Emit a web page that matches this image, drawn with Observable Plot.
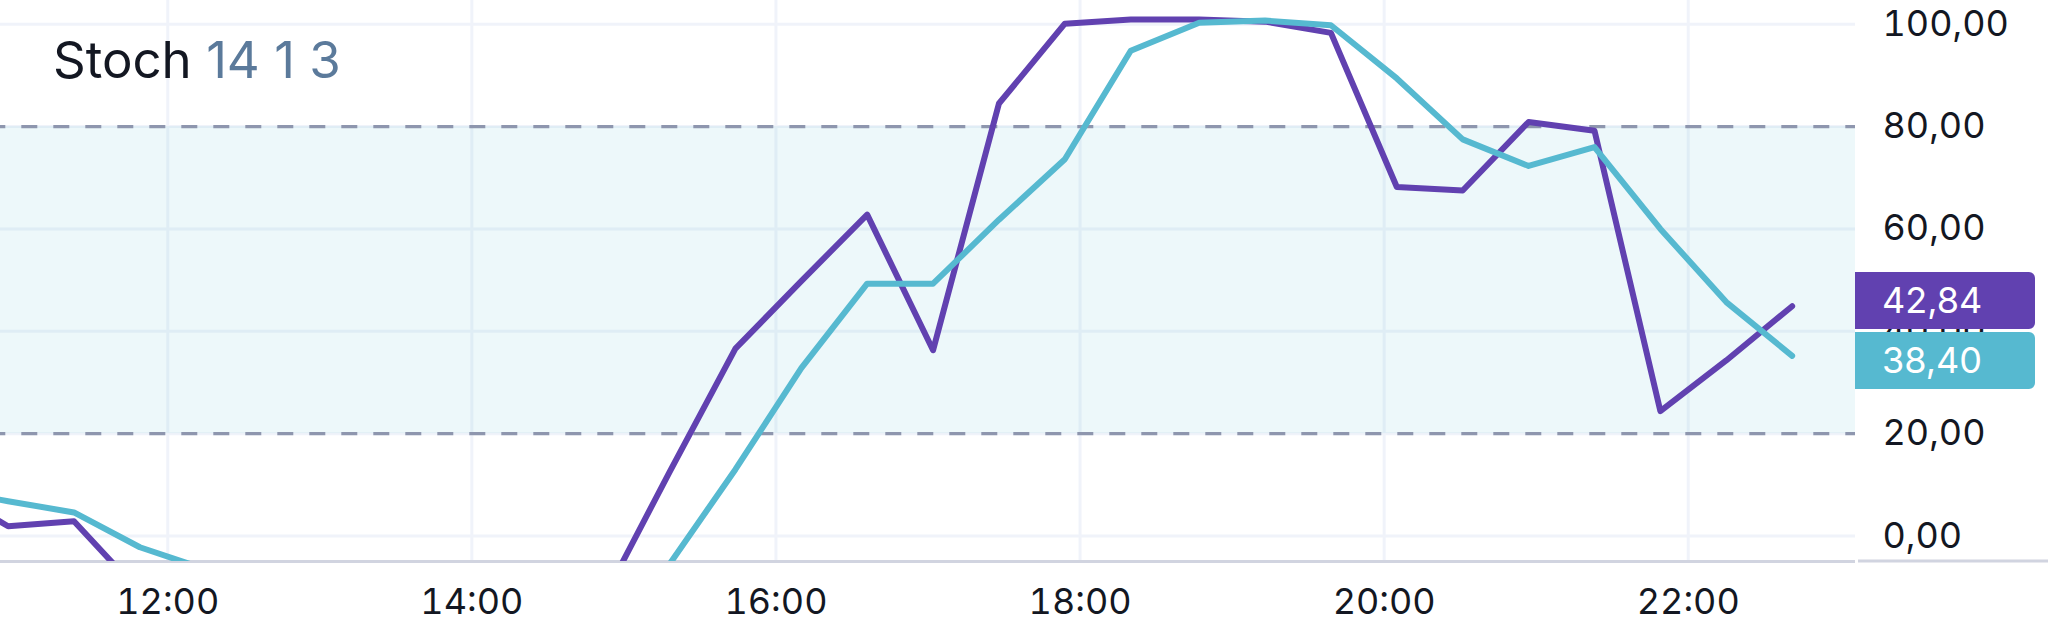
<!DOCTYPE html>
<html>
<head>
<meta charset="utf-8">
<script src="https://cdn.jsdelivr.net/npm/d3@7"></script>
<script src="https://cdn.jsdelivr.net/npm/@observablehq/plot@0.6"></script>
<style>
  html, body { margin: 0; padding: 0; background: #ffffff; }
  #chart { width: 2048px; height: 640px; }
</style>
</head>
<body>
<div id="chart"></div>
<script>
// ---- data ----
const times = ["10:31","10:57","11:23","11:49","12:15","12:41","13:07","13:33","13:59","14:26",
               "14:52","15:18","15:44","16:10","16:36","17:02","17:28","17:54","18:20","18:47",
               "19:13","19:39","20:05","20:31","20:57","21:23","21:49","22:15","22:41"];
const kValues = [9.5, 1.9, 2.9, -11.0, -11.0, -15.0, -15.0, -15.0, -15.0, -19.0,
                 -12.2, 12.5, 36.6, 49.8, 62.8, 36.3, 84.5, 100.1, 100.9, 100.9,
                 100.5, 98.3, 68.2, 67.5, 80.9, 79.2, 24.4, 34.3, 44.9];
const dValues = [9.1, 6.8, 4.6, -2.2, -6.5, -12.4, -13.7, -15.0, -15.0, -16.3,
                 -15.2, -5.5, 13.0, 32.8, 49.3, 49.3, 61.8, 73.6, 94.8, 100.3,
                 100.7, 99.8, 89.4, 77.5, 72.3, 76.0, 60.0, 45.7, 35.2];
const yTicks = [0, 20, 40, 60, 80, 100];
const xTickLabels = ["12:00", "14:00", "16:00", "18:00", "20:00", "22:00"];
const bandLevels = [20, 80];
const titleName = "Stoch";
const titleParams = "14 1 3";
const badgeLabels = ["42,84", "38,40"];

// ---- build ----
const parse = d3.timeParse("%H:%M");
const rows = times.map((t, i) => ({t: parse(t), k: kValues[i], d: dValues[i]}));
const xDomain = [parse("10:54"), parse("23:06")];
const yDomain = [-4.98, 104.63];
const fmt = v => d3.format(".2f")(v).replace(".", ",");
const font = "Inter, 'Noto Sans', sans-serif";

const purple = "#6141B0";
const cyan = "#56B9D0";

const plot = Plot.plot({
  width: 2048,
  height: 640,
  marginLeft: 0,
  marginRight: 193,
  marginTop: 0,
  marginBottom: 79,
  style: {fontFamily: font, fontSize: "36px", color: "#131722", background: "#ffffff", overflow: "visible"},
  x: {type: "time", domain: xDomain, label: null},
  y: {domain: yDomain, label: null},
  marks: [
    Plot.gridY(yTicks, {stroke: "#F0F3FA", strokeOpacity: 1, strokeWidth: 3}),
    Plot.gridX(xTickLabels.map(parse), {stroke: "#F0F3FA", strokeOpacity: 1, strokeWidth: 3}),
    Plot.rect([{y1: bandLevels[0], y2: bandLevels[1]}], {
      x1: () => xDomain[0], x2: () => xDomain[1], y1: "y1", y2: "y2",
      fill: cyan, fillOpacity: 0.107
    }),
    Plot.ruleY(bandLevels, {stroke: "#8E96AE", strokeWidth: 3.2, strokeDasharray: "16,16", strokeDashoffset: 10.7}),
    Plot.ruleY([yDomain[0]], {stroke: "#D1D4E0", strokeWidth: 3}),
    Plot.line(rows, {x: "t", y: "k", stroke: purple, strokeWidth: 6, clip: true}),
    Plot.line(rows, {x: "t", y: "d", stroke: cyan, strokeWidth: 6, clip: true}),
    Plot.axisY(yTicks, {anchor: "right", tickSize: 0, tickPadding: 27, tickFormat: fmt, textAnchor: "start", fill: "#131722", label: null}),
    Plot.axisX(xTickLabels.map(parse), {anchor: "bottom", tickSize: 0, tickPadding: 27, tickFormat: d3.timeFormat("%H:%M"), fill: "#131722", label: null})
  ]
});

document.getElementById("chart").appendChild(plot);

const svg = d3.select(plot);
const xs = plot.scale("x");
const ys = plot.scale("y");
const xRight = xs.range[1];
const yBottom = ys.apply(yDomain[0]);

// axis line continues under price scale
svg.append("line")
  .attr("x1", xRight + 3).attr("x2", 2048)
  .attr("y1", yBottom).attr("y2", yBottom)
  .attr("stroke", "#D1D4E0").attr("stroke-width", 3);

// last value badges (pushed apart if overlapping)
const bh = 57, bgap = 3, bw = 180, r = 6;
let pk = ys.apply(kValues[kValues.length - 1]);
let pd = ys.apply(dValues[dValues.length - 1]);
if (Math.abs(pk - pd) < bh + bgap) {
  const mid = (pk + pd) / 2;
  pk = mid - (bh + bgap) / 2;
  pd = mid + (bh + bgap) / 2;
}
function badge(cy, color, label) {
  const y0 = cy - bh / 2, x0 = xRight;
  svg.append("path")
    .attr("d", `M${x0},${y0}H${x0 + bw - r}A${r},${r} 0 0 1 ${x0 + bw},${y0 + r}V${y0 + bh - r}A${r},${r} 0 0 1 ${x0 + bw - r},${y0 + bh}H${x0}Z`)
    .attr("fill", color);
  svg.append("text")
    .attr("x", x0 + 27).attr("y", cy).attr("dy", "0.36em")
    .attr("text-anchor", "start")
    .attr("fill", "#ffffff")
    .style("font-family", font)
    .style("font-size", "36px")
    .text(label);
}
badge(pk, purple, badgeLabels[0]);
badge(pd, cyan, badgeLabels[1]);

// title
const title = svg.append("text")
  .attr("x", 53).attr("y", 78)
  .attr("text-anchor", "start")
  .style("font-family", font)
  .style("font-size", "51px");
title.append("tspan").attr("fill", "#131722").text(titleName);
title.append("tspan").attr("fill", "#5B7A9B").text(" " + titleParams);
</script>
</body>
</html>
